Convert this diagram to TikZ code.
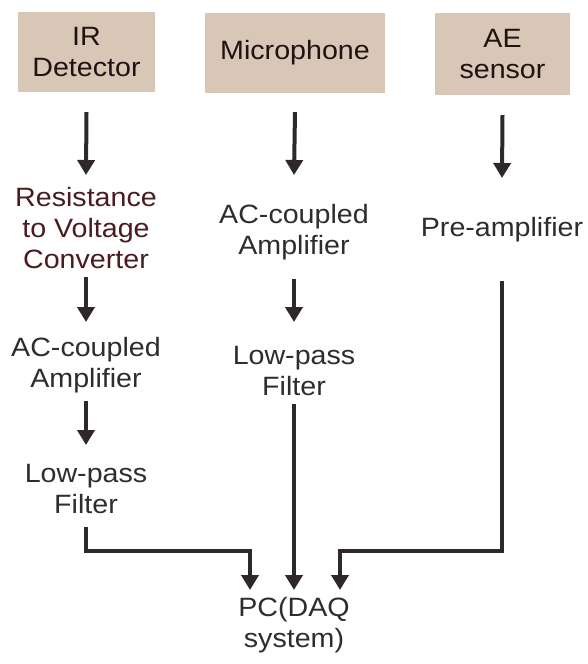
\documentclass[tikz,border=0pt]{standalone}
\usepackage{fontspec}
\setmainfont[FakeStretch=1.08]{Liberation Sans}
\usetikzlibrary{arrows.meta}
\definecolor{boxfill}{HTML}{D8C6B6}
\definecolor{boxtext}{HTML}{1E1212}
\definecolor{txt}{HTML}{302C2C}
\definecolor{redtxt}{HTML}{4A1C1E}
\definecolor{arrcol}{HTML}{2E2828}
\begin{document}
\begin{tikzpicture}[x=1pt,y=-1pt,
  srcbox/.style={fill=boxfill,draw=none,inner sep=0pt,align=center,text=boxtext,
    font=\fontsize{26.5}{31}\selectfont},
  lbl/.style={inner sep=0pt,align=center,anchor=north,text=txt,
    font=\fontsize{26.5}{31}\selectfont},
  arr/.style={draw=arrcol,line width=4pt,line join=miter,
    -{Triangle[width=17pt,length=15pt]}}]
\useasboundingbox (0,0) rectangle (588,664);
\fill[white] (0,0) rectangle (588,664);

% source boxes
\node[srcbox,minimum width=137pt,minimum height=80pt] (ir) at (86.5,52) {IR\\Detector};
\node[srcbox,minimum width=180pt,minimum height=80pt] (mic) at (295,53) {Microphone};
\node[srcbox,minimum width=135pt,minimum height=82pt] (ae) at (502.5,54) {AE\\sensor};

% column 1
\node[lbl,text=redtxt] (res) at (86,187) {Resistance\\to Voltage\\Converter};
\node[lbl] (ac1) at (86,337) {AC-coupled\\Amplifier};
\node[lbl] (lp1) at (86,464) {Low-pass\\Filter};

% column 2
\node[lbl] (ac2) at (294,204) {AC-coupled\\Amplifier};
\node[lbl] (lp2) at (294,346) {Low-pass\\Filter};

% column 3
\node[lbl] (pre) at (502,217) {Pre-amplifier};

% sink
\node[lbl] (pc) at (294,597) {PC(DAQ\\system)};

% arrows column 1
\draw[arr] ([yshift=-20pt]ir.south) -- ([yshift=12pt]res.north);
\draw[arr] ([yshift=-8pt]res.south) -- ([yshift=15pt]ac1.north);
\draw[arr] ([yshift=-8pt]ac1.south) -- ([yshift=19pt]lp1.north);
\draw[arr] ([yshift=-13pt]lp1.south) -- ++(0,24) -| ([xshift=-44pt,yshift=7pt]pc.north);

% arrows column 2
\draw[arr] ([yshift=-19pt]mic.south) -- ([yshift=29pt]ac2.north);
\draw[arr] ([yshift=-19pt]ac2.south) -- ([yshift=24pt]lp2.north);
\draw[arr] ([yshift=-8pt]lp2.south) -- ([yshift=7pt]pc.north);

% arrows column 3
\draw[arr] ([yshift=-20pt]ae.south) -- ([yshift=39pt]pre.north);
\draw[arr] ([yshift=-39pt]pre.south) -- ++(0,270) -| ([xshift=46pt,yshift=7pt]pc.north);
\end{tikzpicture}
\end{document}
